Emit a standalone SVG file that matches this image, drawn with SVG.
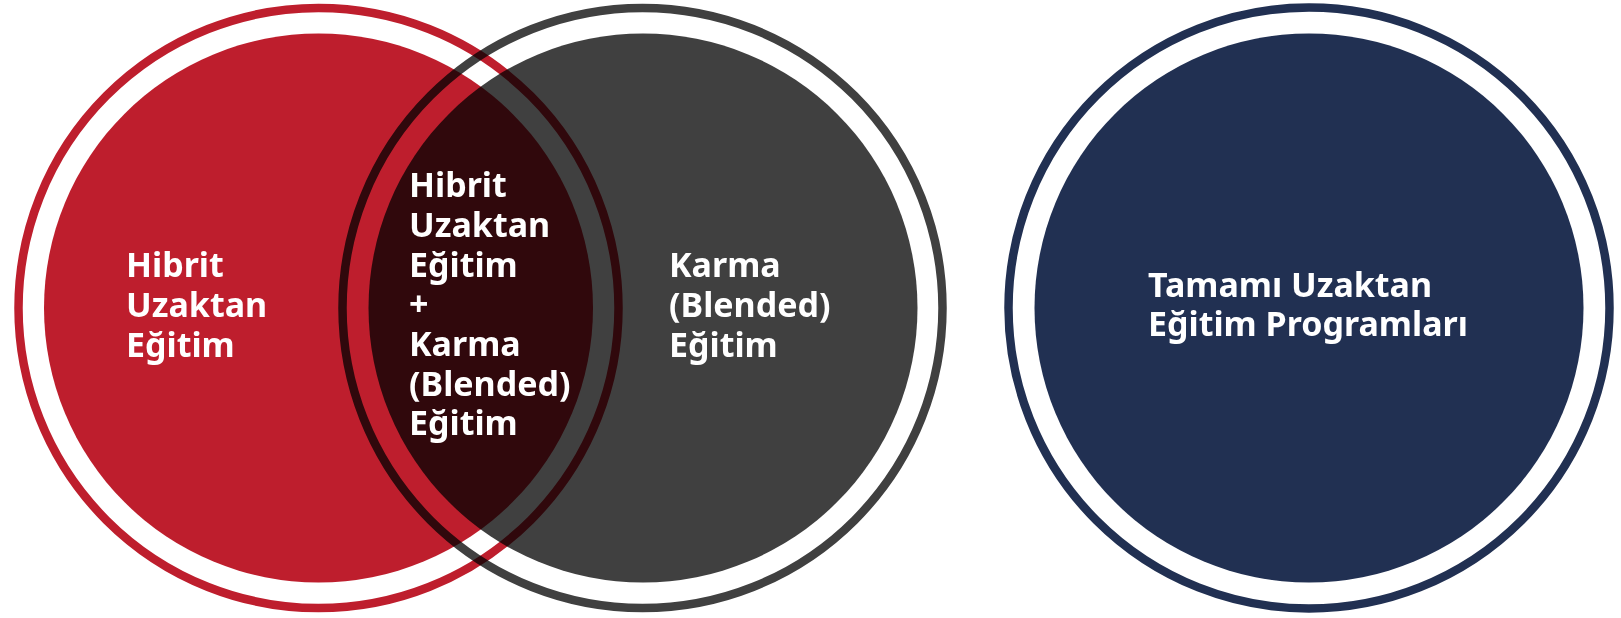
<svg xmlns="http://www.w3.org/2000/svg" width="1621" height="618" viewBox="0 0 1621 618">
  <style>
    .ring { fill: none; stroke-width: 8.5; }
    .lbl { fill: #ffffff; font-family: "Noto Sans", "Open Sans", sans-serif; font-weight: bold; font-size: 34px; }
    .mul { mix-blend-mode: multiply; }
  </style>
  <rect width="1621" height="618" fill="#ffffff"/>
  <g id="connectors"></g>
  <g id="node-hibrit">
    <circle cx="318.5" cy="308" r="274.5" fill="#BE1E2D"/>
    <circle class="ring" cx="318.5" cy="308" r="300" stroke="#BE1E2D"/>
  </g>
  <g id="node-karma">
    <circle class="mul" cx="643" cy="308" r="274.5" fill="#404040"/>
    <circle class="ring mul" cx="642.5" cy="308" r="300" stroke="#404040"/>
  </g>
  <g id="node-tamami">
    <circle cx="1309" cy="308" r="274.5" fill="#213052"/>
    <circle class="ring" cx="1309" cy="308" r="300.5" stroke="#213052"/>
  </g>
  <g id="label-hibrit">
    <text class="lbl" x="126" y="277">Hibrit</text>
    <text class="lbl" x="126" y="317">Uzaktan</text>
    <text class="lbl" x="126" y="357">Eğitim</text>
  </g>
  <g id="node-intersection">
    <text class="lbl" x="409" y="197">Hibrit</text>
    <text class="lbl" x="409" y="237">Uzaktan</text>
    <text class="lbl" x="409" y="277">Eğitim</text>
    <text class="lbl" x="409" y="316">+</text>
    <text class="lbl" x="409" y="356">Karma</text>
    <text class="lbl" x="409" y="396">(Blended)</text>
    <text class="lbl" x="409" y="435">Eğitim</text>
  </g>
  <g id="label-karma">
    <text class="lbl" x="669" y="277">Karma</text>
    <text class="lbl" x="669" y="317">(Blended)</text>
    <text class="lbl" x="669" y="357">Eğitim</text>
  </g>
  <g id="label-tamami">
    <text class="lbl" x="1148" y="297">Tamamı Uzaktan</text>
    <text class="lbl" x="1148" y="336">Eğitim Programları</text>
  </g>
</svg>
